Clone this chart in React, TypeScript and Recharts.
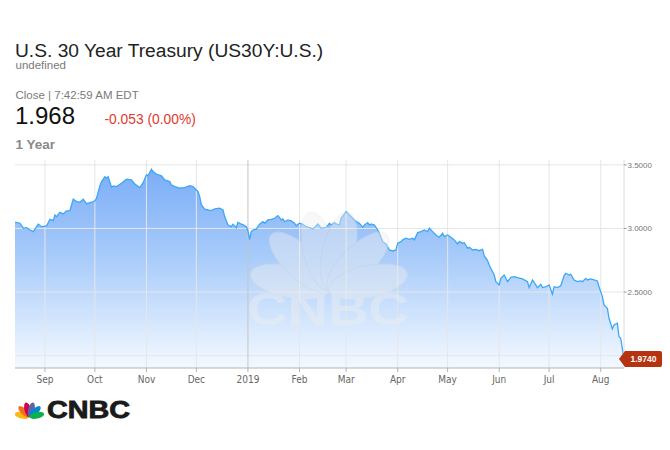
import React from 'react';
import { ComposedChart, Area, Line, XAxis, YAxis, ReferenceLine, ReferenceDot } from 'recharts';

const dates = [
  '2018-08-14','2018-08-17','2018-08-19','2018-08-21','2018-08-23','2018-08-25','2018-08-28','2018-08-30',
  '2018-09-02','2018-09-04','2018-09-06','2018-09-07','2018-09-08','2018-09-10','2018-09-12','2018-09-14','2018-09-16','2018-09-18','2018-09-20','2018-09-22','2018-09-24','2018-09-26','2018-09-29',
  '2018-10-01','2018-10-02','2018-10-04','2018-10-05','2018-10-07','2018-10-08','2018-10-09','2018-10-11','2018-10-12','2018-10-14','2018-10-17','2018-10-20','2018-10-23','2018-10-25','2018-10-28','2018-10-30',
  '2018-11-01','2018-11-02','2018-11-04','2018-11-05','2018-11-07','2018-11-10','2018-11-12','2018-11-15','2018-11-16','2018-11-18','2018-11-21','2018-11-24','2018-11-27','2018-11-29',
  '2018-12-02','2018-12-03','2018-12-04','2018-12-06','2018-12-08','2018-12-10','2018-12-12','2018-12-15','2018-12-17','2018-12-18','2018-12-20','2018-12-22','2018-12-23','2018-12-25','2018-12-26','2018-12-28','2018-12-29','2018-12-31',
  '2019-01-01','2019-01-02','2019-01-03','2019-01-04','2019-01-06','2019-01-08','2019-01-10','2019-01-11','2019-01-13','2019-01-15','2019-01-17','2019-01-19','2019-01-21','2019-01-22','2019-01-23','2019-01-25','2019-01-27','2019-01-29','2019-01-30',
  '2019-02-01','2019-02-03','2019-02-05','2019-02-07','2019-02-09','2019-02-12','2019-02-14','2019-02-17','2019-02-19','2019-02-20','2019-02-22','2019-02-23','2019-02-25','2019-02-26','2019-02-28',
  '2019-03-01','2019-03-03','2019-03-05','2019-03-07','2019-03-09','2019-03-11','2019-03-12','2019-03-14','2019-03-15','2019-03-16','2019-03-18','2019-03-20','2019-03-21','2019-03-23','2019-03-25','2019-03-27','2019-03-29','2019-03-31',
  '2019-04-01','2019-04-03','2019-04-04','2019-04-06','2019-04-08','2019-04-10','2019-04-11','2019-04-13','2019-04-15','2019-04-17','2019-04-19','2019-04-20','2019-04-22','2019-04-24','2019-04-26','2019-04-28','2019-04-29',
  '2019-05-01','2019-05-03','2019-05-05','2019-05-07','2019-05-08','2019-05-10','2019-05-11','2019-05-13','2019-05-14','2019-05-16','2019-05-18','2019-05-20','2019-05-22','2019-05-23','2019-05-25','2019-05-26','2019-05-28','2019-05-29','2019-05-30',
  '2019-06-01','2019-06-02','2019-06-04','2019-06-05','2019-06-06','2019-06-08','2019-06-10','2019-06-12','2019-06-15','2019-06-18','2019-06-19','2019-06-21','2019-06-22','2019-06-24','2019-06-26','2019-06-27','2019-06-29',
  '2019-07-01','2019-07-03','2019-07-04','2019-07-06','2019-07-08','2019-07-10','2019-07-11','2019-07-13','2019-07-14','2019-07-16','2019-07-18','2019-07-20','2019-07-21','2019-07-23','2019-07-24','2019-07-26','2019-07-28','2019-07-30','2019-07-31',
  '2019-08-02','2019-08-03','2019-08-05','2019-08-06','2019-08-08','2019-08-09','2019-08-11','2019-08-12','2019-08-13','2019-08-15',
];

const yields = [
  3.049,3.041,3.002,3.006,2.988,2.975,3.033,3.014,
  3.020,3.072,3.061,3.106,3.093,3.127,3.114,3.138,3.140,3.230,3.211,3.206,3.230,3.195,3.206,
  3.216,3.237,3.334,3.368,3.407,3.395,3.407,3.324,3.334,3.329,3.355,3.387,3.381,3.350,3.321,3.360,
  3.421,3.415,3.465,3.447,3.428,3.413,3.381,3.368,3.342,3.329,3.316,3.321,3.336,3.329,
  3.289,3.250,3.185,3.151,3.145,3.140,3.153,3.159,3.145,3.093,3.027,3.014,3.033,3.006,3.049,3.033,3.030,3.014,
  2.980,2.915,2.975,2.988,2.994,3.033,3.053,3.041,3.067,3.072,3.080,3.101,3.067,3.075,3.053,3.067,3.059,3.041,3.022,
  3.041,3.033,3.014,3.006,2.996,3.035,3.002,3.009,3.041,3.027,3.046,3.035,3.027,3.080,3.114,
  3.132,3.106,3.080,3.053,3.041,3.009,3.027,3.046,3.027,3.035,3.027,2.988,2.962,2.896,2.878,2.831,2.823,2.831,
  2.884,2.896,2.910,2.923,2.915,2.923,2.910,2.967,2.975,2.988,2.975,3.002,2.975,2.949,2.931,2.962,2.936,
  2.949,2.931,2.910,2.878,2.896,2.884,2.888,2.844,2.852,2.831,2.836,2.825,2.836,2.784,2.747,2.713,2.660,2.634,2.582,
  2.556,2.608,2.634,2.608,2.582,2.616,2.621,2.613,2.603,2.582,2.535,2.595,2.577,2.535,2.561,2.535,2.542,
  2.556,2.483,2.542,2.535,2.550,2.629,2.648,2.634,2.640,2.595,2.582,2.587,2.582,2.608,2.595,2.603,2.595,2.587,2.542,
  2.464,2.399,2.373,2.294,2.210,2.241,2.255,2.149,2.137,1.974,
];

const monthTicks = ['2018-09-01','2018-10-01','2018-11-01','2018-12-01','2019-01-01','2019-02-01','2019-03-01','2019-04-01','2019-05-01','2019-06-01','2019-07-01','2019-08-01'];
const monthLabels = ['Sep','Oct','Nov','Dec','2019','Feb','Mar','Apr','May','Jun','Jul','Aug'];
const yTicks = [2.0, 2.5, 3.0, 3.5];
const yDomain = [1.903, 3.538];
const xStart = '2018-08-14';
const xEnd = '2019-08-15';
const lastPrice = 1.974;

const title = 'U.S. 30 Year Treasury (US30Y:U.S.)';
const subtitle = 'undefined';
const closeInfo = 'Close | 7:42:59 AM EDT';
const priceText = '1.968';
const changeText = '-0.053 (0.00%)';
const rangeText = '1 Year';

const data = dates.map((d, i) => ({ t: Date.parse(d), v: yields[i] }));
const tickTs = monthTicks.map((d) => Date.parse(d));
const yearTs = Date.parse('2019-01-01');

const SANS = '"Liberation Sans", Arial, sans-serif';
const NARROW = '"Liberation Sans Narrow", "DejaVu Sans Condensed", "Liberation Sans", sans-serif';

const YTick = (props: any) => {
  const { x, y, payload } = props;
  if (payload.value === 2) return null;
  return (
    <g>
      <line x1={x - 3} x2={x - 0.5} y1={y} y2={y} stroke="#999" strokeWidth={1} />
      <text x={x + 0.5} y={y} dy="0.35em" textAnchor="start" fontSize={8} fontFamily={SANS} fill="#777">
        {Number(payload.value).toFixed(4)}
      </text>
    </g>
  );
};

const PriceTag = (props: any) => {
  const { cx, cy } = props;
  const l = cx + 1;
  const r = cx + 38;
  return (
    <g>
      <path
        d={`M${cx - 5},${cy} L${l},${cy - 8} L${r - 2},${cy - 8} Q${r},${cy - 8} ${r},${cy - 6} L${r},${cy + 6} Q${r},${cy + 8} ${r - 2},${cy + 8} L${l},${cy + 8} Z`}
        fill="#b6330f"
      />
      <text x={(l + r) / 2} y={cy} dy="0.35em" textAnchor="middle" fontSize={8.5} fontWeight="bold" fontFamily={SANS} fill="#fff">
        {lastPrice.toFixed(4)}
      </text>
    </g>
  );
};

const Feather = ({ px, py, angle, len, w, fill, stroke }: any) => {
  const rad = (angle * Math.PI) / 180;
  const cx = px + Math.cos(rad) * len;
  const cy = py - Math.sin(rad) * len;
  return <ellipse cx={cx} cy={cy} rx={len} ry={w} transform={`rotate(${-angle} ${cx} ${cy})`} fill={fill} stroke={stroke ?? 'none'} strokeWidth={1} />;
};

const featherAngles = [168, 136, 104, 76, 44, 12];
const logoColors = ['#fcb711', '#f37021', '#cc004c', '#6460aa', '#0089d0', '#0db14b'];

export default function App() {
  return (
    <div style={{ position: 'absolute', left: 0, top: 0, width: 670, height: 450, background: '#fff', overflow: 'hidden' }}>
      <svg width={670} height={160} style={{ position: 'absolute', left: 0, top: 0 }}>
        <text x={15} y={56.5} fontSize={19.2} fontFamily={SANS} fill="#222">{title}</text>
        <text x={15.5} y={69} fontSize={11.5} fontFamily={SANS} fill="#7a7a7a">{subtitle}</text>
        <text x={15.5} y={98.5} fontSize={11.5} fontFamily={SANS} fill="#7a7a7a">{closeInfo}</text>
        <text x={15} y={123.5} fontSize={24} fontFamily={SANS} fill="#111">{priceText}</text>
        <text x={104.5} y={123.5} fontSize={13.8} fontFamily={SANS} fill="#e3382c">{changeText}</text>
        <text x={15.5} y={149} fontSize={13.5} fontWeight="bold" fontFamily={SANS} fill="#8a8a8a">{rangeText}</text>
      </svg>
      <ComposedChart
        width={670}
        height={450}
        data={data}
        margin={{ top: 160, right: 0, bottom: 52, left: 15 }}
        style={{ position: 'absolute', left: 0, top: 0 }}
      >
        <defs>
          <linearGradient id="fillGrad" x1="0" y1="0" x2="0" y2="1">
            <stop offset="0%" stopColor="#7badf7" />
            <stop offset="45%" stopColor="#a9ccfa" />
            <stop offset="100%" stopColor="#f4f9ff" />
          </linearGradient>
        </defs>
        <XAxis
          dataKey="t"
          type="number"
          scale="time"
          domain={[Date.parse(xStart), Date.parse(xEnd)]}
          allowDataOverflow
          ticks={tickTs}
          tickFormatter={(v: number) => monthLabels[tickTs.indexOf(v)] ?? ''}
          height={30}
          tickSize={4}
          tickMargin={4}
          axisLine={{ stroke: '#b3b3b3' }}
          tickLine={{ stroke: '#b3b3b3' }}
          tick={{ fill: '#666', fontSize: 10, fontFamily: NARROW }}
          interval={0}
        />
        <YAxis
          orientation="right"
          domain={yDomain}
          allowDataOverflow
          ticks={yTicks}
          width={46}
          tickSize={2}
          tickMargin={1}
          tickLine={false}
          axisLine={{ stroke: '#dcdcdc' }}
          tick={<YTick />}
          interval={0}
        />
        <Area type="linear" dataKey="v" stroke="none" fill="url(#fillGrad)" fillOpacity={1} isAnimationActive={false} dot={false} activeDot={false} />
        {yTicks.map((v) => (
          <ReferenceLine key={'h' + v} y={v} stroke="#e6e6e6" strokeWidth={1} />
        ))}
        {tickTs.map((t) => (
          <ReferenceLine key={'v' + t} x={t} stroke={t === yearTs ? '#c4c4c4' : '#e6e6e6'} strokeWidth={1} />
        ))}
        <Line type="linear" dataKey="v" stroke="#3da7f4" strokeWidth={1.3} dot={false} activeDot={false} isAnimationActive={false} />
        <ReferenceDot x={data[data.length - 1].t} y={lastPrice} ifOverflow="visible" shape={<PriceTag />} />
      </ComposedChart>
      <svg width={670} height={450} style={{ position: 'absolute', left: 0, top: 0, pointerEvents: 'none' }}>
        <g opacity={0.42}>
          {featherAngles.map((a, i) => (
            <Feather key={i} px={329} py={290} angle={a} len={40} w={16} fill="#f0f0f0" stroke="#e2e2e2" />
          ))}
          <text x={247} y={325} fontSize={46} fontWeight="bold" fontFamily={SANS} fill="#f0f0f0" textLength={162} lengthAdjust="spacingAndGlyphs">CNBC</text>
        </g>
        <g>
          {featherAngles.map((a, i) => (
            <Feather key={i} px={29.5} py={417} angle={a} len={7.5} w={3.2} fill={logoColors[i]} />
          ))}
          <text x={47} y={418} fontSize={23} fontWeight="bold" fontFamily={SANS} fill="#1a1a1a" stroke="#1a1a1a" strokeWidth={0.8} textLength={83} lengthAdjust="spacingAndGlyphs">CNBC</text>
        </g>
      </svg>
    </div>
  );
}
